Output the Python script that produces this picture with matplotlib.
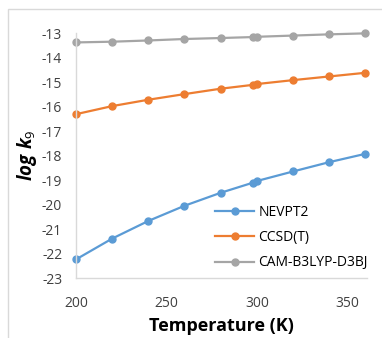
import numpy as np
import matplotlib
matplotlib.use('Agg')
from matplotlib import pyplot as plt
from matplotlib.patches import Rectangle

# Temperatures (K) and log k values
temps = [200, 220, 240, 260, 280, 298.15, 300, 320, 340, 360]
nevpt2 = [-22.24, -21.39, -20.67, -20.05, -19.52, -19.10, -19.04, -18.65, -18.27, -17.93]
ccsdt = [-16.31, -15.98, -15.72, -15.49, -15.27, -15.11, -15.08, -14.92, -14.77, -14.62]
cam = [-13.38, -13.35, -13.30, -13.24, -13.20, -13.16, -13.15, -13.10, -13.05, -13.01]

labels = ['NEVPT2', 'CCSD(T)', 'CAM-B3LYP-D3BJ']
colors = ['#5B9BD5', '#ED7D31', '#A5A5A5']
xticks = [200, 250, 300, 350]
yticks = list(range(-23, -12))

plt.rcParams['font.family'] = ['Open Sans', 'DejaVu Sans']
plt.rcParams['axes.unicode_minus'] = False
plt.rcParams['mathtext.fontset'] = 'custom'
plt.rcParams['mathtext.it'] = 'Open Sans:italic:bold'
plt.rcParams['mathtext.rm'] = 'Open Sans'

fig = plt.figure(figsize=(3.82, 3.38), dpi=100)
ax = fig.add_axes([0.199, 0.1775, 0.762, 0.7245])

# light chart-area border, like the Excel export
fig.patches.append(Rectangle((8 / 382, -0.1), 1.2, 1 - 9 / 338 + 0.1,
                             transform=fig.transFigure, fill=False,
                             edgecolor='#d9d9d9', linewidth=1))

for ys, lab, col in zip([nevpt2, ccsdt, cam], labels, colors):
    ax.plot(temps, ys, color=col, lw=1.6, marker='o', markersize=5,
            label=lab, clip_on=False)

ax.set_xlim(200, 361)
ax.set_ylim(-23, -13)
ax.set_xticks(xticks)
ax.set_yticks(yticks)
ax.tick_params(length=0, labelsize=10, colors='#404040')
ax.tick_params(axis='x', pad=13)
ax.tick_params(axis='y', pad=10)
for s in ['top', 'right']:
    ax.spines[s].set_visible(False)
for s in ['left', 'bottom']:
    ax.spines[s].set_color('#d9d9d9')
    ax.spines[s].set_linewidth(1)

ax.set_xlabel('Temperature (K)', fontsize=13, fontweight='bold', labelpad=4)
ax.set_ylabel(r'$log\ k_{9}$', fontsize=13.5, labelpad=2)

ax.legend(loc='lower right', bbox_to_anchor=(1.045, -0.02), frameon=False,
          fontsize=10, handlelength=2.8, labelspacing=0.75, handletextpad=0.3)

fig.savefig('out.png', dpi=100)
